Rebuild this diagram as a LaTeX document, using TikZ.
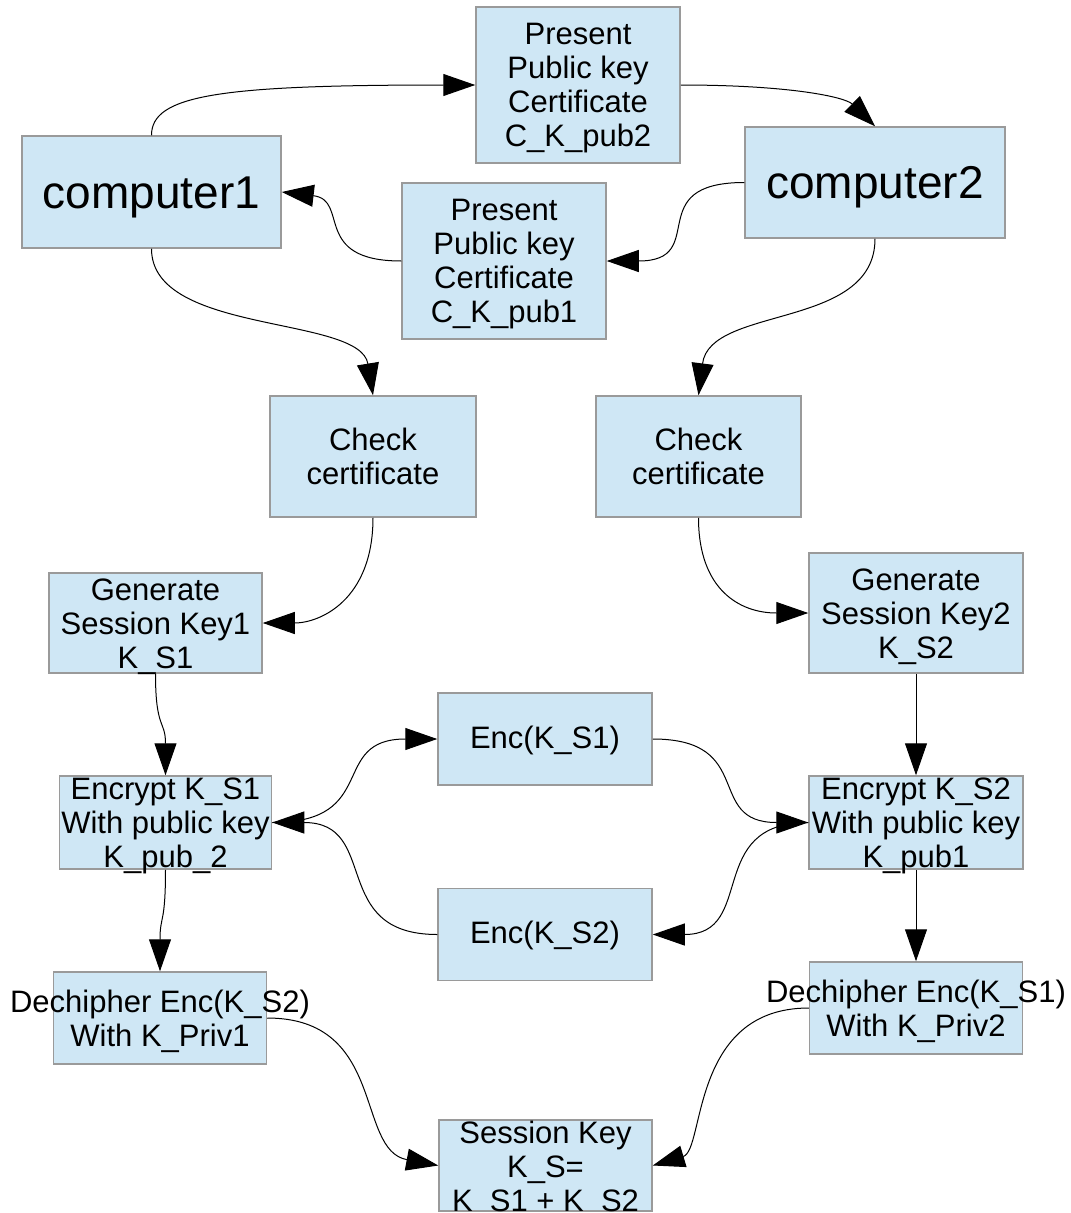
\documentclass[tikz,border=0pt]{standalone}
\usepackage{fontspec}
\setmainfont{Liberation Sans}
\usetikzlibrary{arrows.meta}
\definecolor{boxfill}{HTML}{CFE7F5}
\definecolor{boxline}{HTML}{9A9A9A}
\begin{document}
\begin{tikzpicture}[x=1pt,y=-1pt,
  box/.style={draw=boxline,line width=1.5pt,fill=boxfill,inner sep=0pt},
  txt/.style={align=center,inner sep=0pt,font=\fontsize{31}{34}\selectfont,yshift=-3.5pt},
  flat/.style={yshift=3.5pt},
  bigtxt/.style={align=center,inner sep=0pt,font=\fontsize{46}{52}\selectfont,yshift=-5pt},
  con/.style={line width=1pt,-{Triangle[length=32pt,width=22pt]}}]
\useasboundingbox (0,0) rectangle (1071,1213);
% boxes
\node[box,minimum width=204,minimum height=156] (p2) at (578,85) {};
\node[box,minimum width=259,minimum height=112] (c1) at (151.5,192) {};
\node[box,minimum width=260,minimum height=111] (c2) at (875,182.5) {};
\node[box,minimum width=204,minimum height=156] (p1) at (504,261) {};
\node[box,minimum width=206,minimum height=121] (cc1) at (373,456.5) {};
\node[box,minimum width=205,minimum height=121] (cc2) at (698.5,456.5) {};
\node[box,minimum width=213,minimum height=100] (gs1) at (155.5,623) {};
\node[box,minimum width=214,minimum height=120] (gs2) at (916,613) {};
\node[box,minimum width=214,minimum height=92] (e1) at (545,739) {};
\node[box,minimum width=212,minimum height=93] (en1) at (165.5,822.5) {};
\node[box,minimum width=214,minimum height=93] (en2) at (916,822.5) {};
\node[box,minimum width=214,minimum height=92] (e2) at (545,934.5) {};
\node[box,minimum width=213,minimum height=92] (d1) at (160,1018) {};
\node[box,minimum width=213,minimum height=92] (d2) at (916,1008) {};
\node[box,minimum width=213,minimum height=91] (sk) at (545.5,1165.5) {};
% texts
\node[txt] (p2t) at (p2.center) {Present\\Public key\\Certificate\\C\_K\_pub2};
\node[bigtxt] (c1t) at (c1.center) {computer1};
\node[bigtxt] (c2t) at (c2.center) {computer2};
\node[txt] (p1t) at (p1.center) {Present\\Public key\\Certificate\\C\_K\_pub1};
\node[txt,flat] (cc1t) at (cc1.center) {Check\\certificate};
\node[txt,flat] (cc2t) at (cc2.center) {Check\\certificate};
\node[txt] (gs1t) at (gs1.center) {Generate\\Session Key1\\K\_S1};
\node[txt] (gs2t) at (gs2.center) {Generate\\Session Key2\\K\_S2};
\node[txt,yshift=2.5pt] (e1t) at (e1.center) {Enc(K\_S1)};
\node[txt] (en1t) at (en1.center) {Encrypt K\_S1\\With public key\\K\_pub\_2};
\node[txt] (en2t) at (en2.center) {Encrypt K\_S2\\With public key\\K\_pub1};
\node[txt,yshift=2.5pt] (e2t) at (e2.center) {Enc(K\_S2)};
\node[txt] (d1t) at (d1.center) {Dechipher Enc(K\_S2)\\With K\_Priv1};
\node[txt] (d2t) at (d2.center) {Dechipher Enc(K\_S1)\\With K\_Priv2};
\node[txt] (skt) at (sk.center) {Session Key\\K\_S=\\K\_S1 + K\_S2};
% connectors
\draw[con] (c1.north) .. controls (151.5,95) and (220,85) .. (p2.west);
\draw[con] (p2.east) .. controls (790,85) and (845,97) .. (c2.north);
\draw[con] (c2.west) .. controls (640,182.5) and (711,261) .. (p1.east);
\draw[con] (p1.west) .. controls (311,261) and (350,200) .. (c1.east);
\draw[con] (c1.south) .. controls (151.5,335) and (360,315) .. (cc1.north);
\draw[con] (c2.south) .. controls (875,330) and (710,305) .. (cc2.north);
\draw[con] (cc1.south) .. controls (373,600) and (320,623) .. (gs1.east);
\draw[con] (cc2.south) .. controls (698.5,590) and (740,613) .. (gs2.west);
\draw[con] (gs1.south) .. controls (155.5,730) and (165.5,720) .. (en1.north);
\draw[con] (gs2.south) -- (en2.north);
\draw[con] (en1.east) .. controls (381,822.5) and (328,739) .. (e1.west);
\draw[con] (e1.east) .. controls (757,739) and (704,822.5) .. (en2.west);
\draw[con] (en2.west) .. controls (704,822.5) and (757,934.5) .. (e2.east);
\draw[con] (e2.west) .. controls (328,934.5) and (381,822.5) .. (en1.east);
\draw[con] (en1.south) .. controls (165.5,925) and (160,915) .. (d1.north);
\draw[con] (en2.south) -- (d2.north);
\draw[con] (d1.east) .. controls (387,1018) and (355,1150) .. (sk.west);
\draw[con] (d2.west) .. controls (690,1008) and (705,1150) .. (sk.east);
\end{tikzpicture}
\end{document}
